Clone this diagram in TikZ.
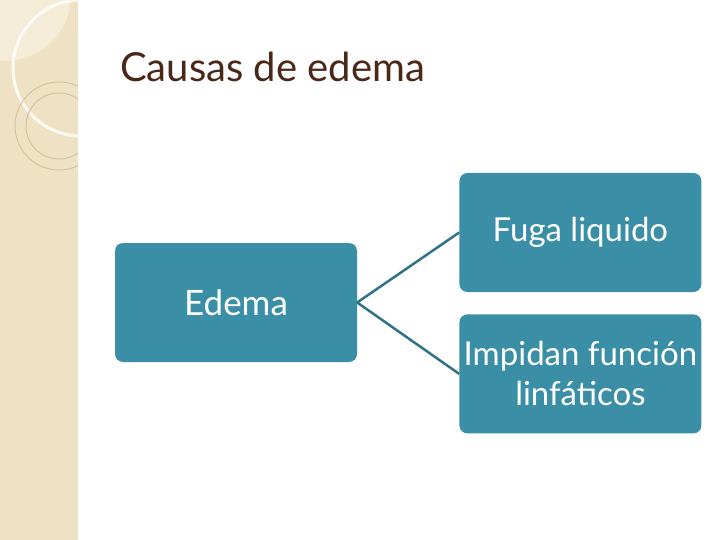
\documentclass[tikz,border=0pt]{standalone}
\usepackage{fontspec}
\setmainfont{Lato}
\usetikzlibrary{positioning}
\definecolor{azul}{HTML}{3A8FA6}
\definecolor{linha}{HTML}{2F7387}
\definecolor{faixa}{HTML}{EFE2C4}
\definecolor{faixaclara}{HTML}{F5ECD8}
\definecolor{anel}{HTML}{D6C29A}
\definecolor{titulo}{HTML}{4A2818}
\tikzset{
    caixa/.style={rectangle, rounded corners=8pt, fill=azul, text=white, minimum width=242pt, minimum height=119pt, align=center, inner sep=2pt, font=\fontsize{33}{40}\selectfont},
    caixa_grande/.style={caixa, font=\fontsize{35}{40}\selectfont},
    ligacao/.style={draw=linha, line width=2.5pt},
    titulo/.style={anchor=base west, inner sep=0pt, text=titulo, font=\fontsize{40}{48}\selectfont}
}
\begin{document}
\begin{tikzpicture}[x=1pt, y=-1pt]
        \useasboundingbox (0,0) rectangle (720,540);

        % Faixa decorativa (esquerda)
        \fill[faixa] (0,0) rectangle (78,540);
        \begin{scope}
            \clip (0,0) rectangle (78,540);
            \fill[faixaclara] (5,-5) circle (66);
            \draw[white, line width=3pt, opacity=0.8] (81,68) circle (68);
            \draw[anel, line width=1pt] (59,126) circle (44);
            \draw[anel, line width=1pt] (59,126) circle (33);
        \end{scope}

        % Titulo
        \node (titulo) [titulo] at (120,82) {Causas de edema};

        % Caixas
        \node (edema) [caixa_grande] at (236,302.5) {Edema};
        \node (fuga) [caixa, right=102pt of edema, yshift=70pt] {Fuga liquido};
        \node (impidan) [caixa, below=22pt of fuga] {Impidan función\\linfáticos};

        % Ligacoes
        \draw [ligacao] (edema.east) -- (fuga.west);
        \draw [ligacao] (edema.east) -- (impidan.west);

    \end{tikzpicture}
\end{document}
